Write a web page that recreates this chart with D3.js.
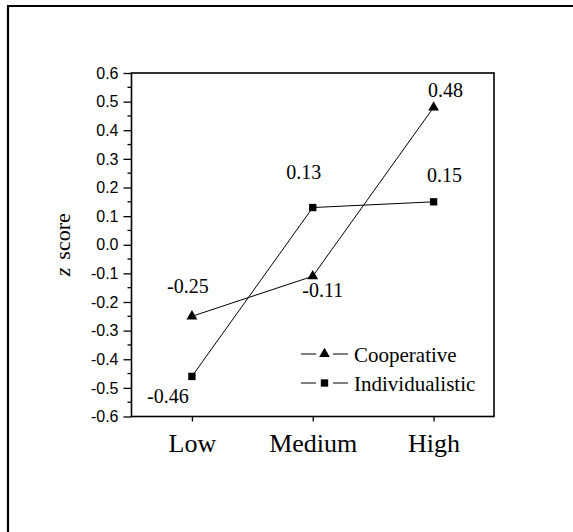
<!DOCTYPE html>
<html>
<head>
<meta charset="utf-8">
<script src="https://cdn.jsdelivr.net/npm/d3@7"></script>
<style>
  body { margin: 0; background: #fff; }
  svg { display: block; }
</style>
</head>
<body>
<svg width="573" height="532"></svg>
<script>
// data
var levels = ["Low", "Medium", "High"]
var cooperative = [-0.25, -0.11, 0.48]
var individualistic = [-0.46, 0.13, 0.15]
var yTicks = [-0.6, -0.5, -0.4, -0.3, -0.2, -0.1, 0.0, 0.1, 0.2, 0.3, 0.4, 0.5, 0.6]
var seriesNames = ["Cooperative", "Individualistic"]

// where each value label sits relative to its point (layout only)
var coopOffsets = [[-4, -23], [10, 21], [12, -10]]
var indOffsets = [[-24, 27], [-9, -29], [11, -20]]

var serif = "'Liberation Serif', 'Times New Roman', serif"
var sans = "'Liberation Sans', Arial, sans-serif"

var plotL = 131.5, plotR = 494, plotT = 73, plotB = 416.5

var svg = d3.select("svg")

// outer frame (only top and left edges show in the picture)
svg.append("path")
	.attr("d", "M8,532 L8,6 L573,6")
	.attr("fill", "none")
	.attr("stroke", "#000")
	.attr("stroke-width", 2.2)

var x = d3.scalePoint().domain(levels).range([plotL, plotR]).padding(0.5)
var y = d3.scaleLinear().domain([-0.6, 0.6]).range([plotB, plotT])

// minor y ticks
var minor = d3.range(-0.55, 0.6, 0.1)
svg.append("g")
	.selectAll("line")
	.data(minor)
	.enter()
	.append("line")
	.attr("x1", plotL - 4)
	.attr("x2", plotL)
	.attr("y1", d => y(d))
	.attr("y2", d => y(d))
	.attr("stroke", "#000")
	.attr("stroke-width", 1.3)

var yAxis = svg.append("g")
	.attr("transform", "translate(" + plotL + ",0)")
	.call(d3.axisLeft(y).tickValues(yTicks).tickSize(8).tickPadding(5).tickFormat(d => d.toFixed(1)))
yAxis.select(".domain").remove()
yAxis.selectAll("line").attr("stroke-width", 1.3)
yAxis.selectAll("text")
	.style("font-family", sans)
	.style("font-size", "16px")
	.attr("fill", "#000")

var xAxis = svg.append("g")
	.attr("transform", "translate(0," + plotB + ")")
	.call(d3.axisBottom(x).tickSize(5).tickPadding(12))
xAxis.select(".domain").remove()
xAxis.selectAll("line").attr("stroke-width", 1.3)
xAxis.selectAll("text")
	.style("font-family", serif)
	.style("font-size", "26px")
	.attr("fill", "#000")

// plot box
svg.append("rect")
	.attr("x", plotL)
	.attr("y", plotT)
	.attr("width", plotR - plotL)
	.attr("height", plotB - plotT)
	.attr("fill", "none")
	.attr("stroke", "#000")
	.attr("stroke-width", 1.6)

// y axis title
var title = svg.append("text")
	.attr("transform", "translate(70," + y(0) + ") rotate(-90)")
	.attr("text-anchor", "middle")
	.style("font-family", serif)
	.style("font-size", "22px")
title.append("tspan").style("font-style", "italic").text("z")
title.append("tspan").attr("dx", 8).text("score")

var line = d3.line().x((d, i) => x(levels[i])).y(d => y(d))

var tri = d3.symbol().type(d3.symbolTriangle).size(50)
var sq = d3.symbol().type(d3.symbolSquare).size(54)

function drawSeries(values, sym, offsets) {
	svg.append("path")
		.datum(values)
		.attr("d", line)
		.attr("fill", "none")
		.attr("stroke", "#000")
		.attr("stroke-width", 1)
	svg.append("g")
		.selectAll("path")
		.data(values)
		.enter()
		.append("path")
		.attr("d", sym)
		.attr("transform", (d, i) => "translate(" + x(levels[i]) + "," + y(d) + ")")
		.attr("fill", "#000")
	svg.append("g")
		.selectAll("text")
		.data(values)
		.enter()
		.append("text")
		.attr("x", (d, i) => x(levels[i]) + offsets[i][0])
		.attr("y", (d, i) => y(d) + offsets[i][1])
		.attr("text-anchor", "middle")
		.style("font-family", serif)
		.style("font-size", "20px")
		.text(d => d.toFixed(2))
}

drawSeries(cooperative, tri, coopOffsets)
drawSeries(individualistic, sq, indOffsets)

// legend
var legend = svg.append("g").attr("transform", "translate(301,354)")
var syms = [tri, sq]
seriesNames.forEach((name, i) => {
	var g = legend.append("g").attr("transform", "translate(0," + i * 29 + ")")
	g.append("line").attr("x1", 0).attr("x2", 15).attr("stroke", "#000").attr("stroke-width", 1)
	g.append("line").attr("x1", 32).attr("x2", 47).attr("stroke", "#000").attr("stroke-width", 1)
	g.append("path").attr("d", syms[i]).attr("transform", "translate(23.5,0)").attr("fill", "#000")
	g.append("text")
		.attr("x", 53)
		.attr("y", 8)
		.style("font-family", serif)
		.style("font-size", "21px")
		.text(name)
})
</script>
</body>
</html>
